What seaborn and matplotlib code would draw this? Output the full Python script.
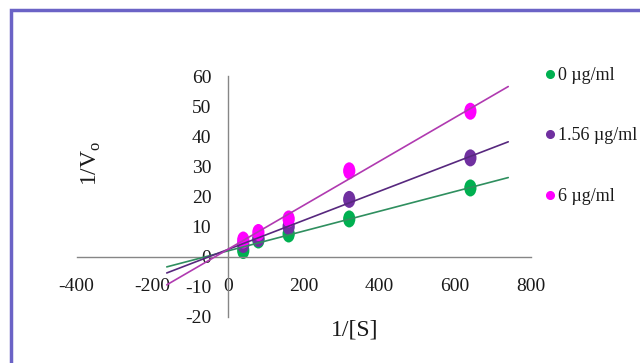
import numpy as np
import pandas as pd
import matplotlib
matplotlib.use("Agg")
import matplotlib.pyplot as plt
import seaborn as sns
from matplotlib.path import Path
from matplotlib.transforms import Affine2D
from matplotlib.lines import Line2D
from matplotlib.patches import Rectangle

# data (Lineweaver-Burk plot)
inv_s = [40, 80, 160, 320, 640]
conc_labels = ["0 \u00b5g/ml", "1.56 \u00b5g/ml", "6 \u00b5g/ml"]
inv_v_0 = [2.0, 5.5, 7.5, 12.5, 22.8]
inv_v_156 = [4.0, 6.0, 10.0, 19.0, 32.8]
inv_v_6 = [5.5, 8.0, 12.5, 28.5, 48.3]
# trendline range (forecast backward / forward like excel)
trend_from, trend_to = -162, 740

xticks = [-400, -200, 0, 200, 400, 600, 800]
yticks = [-20, -10, 0, 10, 20, 30, 40, 50, 60]

point_colors = ["#00B050", "#7030A0", "#FF00FF"]
line_colors = ["#2f8f5f", "#57287e", "#b03ab0"]

# long form dataframe for seaborn
df = pd.DataFrame({
    "inv_s": inv_s * 3,
    "inv_v": inv_v_0 + inv_v_156 + inv_v_6,
    "conc": [c for c in conc_labels for _ in inv_s],
})

sns.set_style("white")
plt.rcParams["font.family"] = ["Liberation Serif", "DejaVu Serif"]
plt.rcParams["mathtext.fontset"] = "custom"
plt.rcParams["mathtext.rm"] = "Liberation Serif"
plt.rcParams["axes.unicode_minus"] = False

fig = plt.figure(figsize=(6.4, 3.63), dpi=100)
ax = fig.add_axes([0.1198, 0.1275, 0.7098, 0.663])

# the points are a bit taller than wide in the picture
ellipse = Affine2D().scale(0.72, 1.0).transform_path(Path.unit_circle())

sns.scatterplot(data=df, x="inv_s", y="inv_v", hue="conc",
                palette=point_colors, hue_order=conc_labels,
                marker=ellipse, s=150, linewidth=0, legend=False,
                ax=ax, zorder=2)

# linear trendlines
xx = np.array([trend_from, trend_to])
for yv, col in zip([inv_v_0, inv_v_156, inv_v_6], line_colors):
    k, b = np.polyfit(inv_s, yv, 1)
    ax.plot(xx, k * xx + b, color=col, lw=1.2, zorder=3)

ax.set_xlim(-400, 800)
ax.set_ylim(-20, 60)
ax.set_xticks(xticks)
ax.set_yticks(yticks)
ax.set_xlabel("")
ax.set_ylabel("")

# excel style axes crossing at zero
ax.spines["left"].set_position(("data", 0))
ax.spines["bottom"].set_position(("data", 0))
ax.spines["top"].set_visible(False)
ax.spines["right"].set_visible(False)
for s in ["left", "bottom"]:
    ax.spines[s].set_color("#868686")
    ax.spines[s].set_linewidth(1.0)
ax.tick_params(axis="x", direction="out", length=4.5, width=1,
               color="#868686", pad=11, labelsize=14, labelcolor="#1a1a1a")
ax.tick_params(axis="y", direction="out", length=3.6, width=1,
               color="#868686", pad=8.5, labelsize=14, labelcolor="#1a1a1a")

fig.text(355 / 640, 1 - 330 / 363, "1/[S]", ha="center", va="center",
         fontsize=17, color="#1a1a1a")
fig.text(91 / 640, 1 - 163 / 363, "1/V$_\\mathregular{o}$", ha="center",
         va="center", rotation=90, fontsize=17, color="#1a1a1a")

handles = [Line2D([], [], marker="o", ls="", color=c, markersize=5.5)
           for c in point_colors]
fig.legend(handles, conc_labels, loc="upper left",
           bbox_to_anchor=(0.852, 0.815), frameon=False, fontsize=13,
           handlelength=0.5, handletextpad=0.2, labelspacing=2.4,
           borderpad=0, borderaxespad=0, labelcolor="#1a1a1a")

# blue frame around the image (right and bottom edges are cut off)
fig.patches.append(Rectangle((11 / 640, -0.2), 1.2, 1 - 9.5 / 363 + 0.2,
                             transform=fig.transFigure, fill=False,
                             edgecolor="#6b63c6", lw=2.5))

fig.savefig("out.png", dpi=100)
